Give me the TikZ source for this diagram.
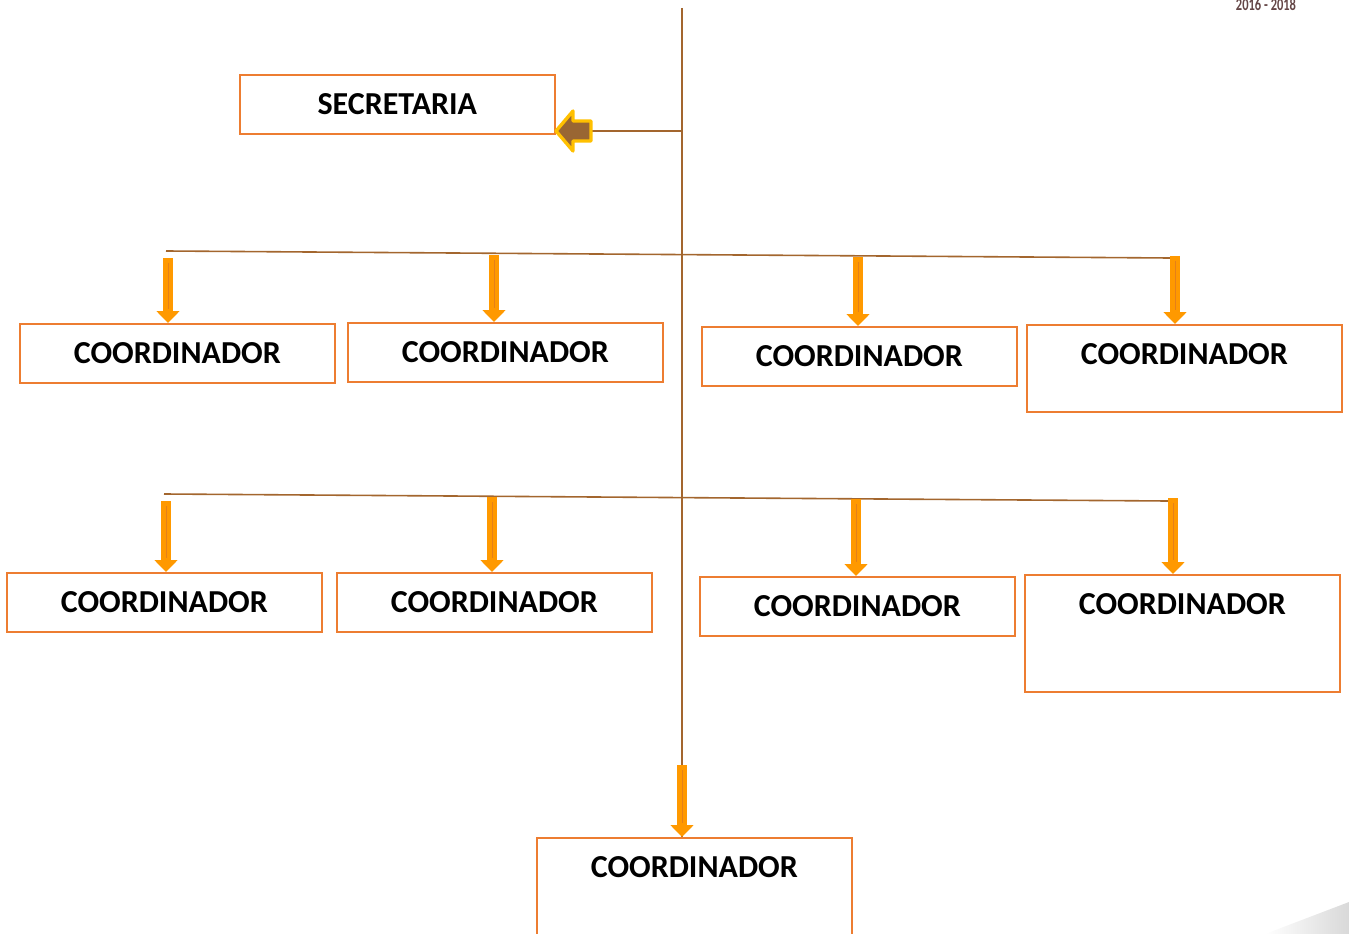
\documentclass[tikz,border=0pt]{standalone}
\usepackage{fontspec}
\setmainfont{Carlito}
\usetikzlibrary{arrows.meta,calc}
\definecolor{boxorange}{RGB}{237,125,49}
\definecolor{linebrown}{RGB}{163,102,46}
\definecolor{arroworange}{RGB}{255,153,0}
\definecolor{arrowyellow}{RGB}{255,192,0}
\definecolor{arrowfill}{RGB}{153,102,51}
\definecolor{yeartext}{RGB}{100,70,70}

\begin{document}
\begin{tikzpicture}[x=0.75pt,y=-0.75pt,line join=miter,
  cbox/.style={draw=boxorange,line width=1.5pt,anchor=north west,inner sep=0pt,
    minimum width=236pt,text height=29.8pt,text depth=14.4pt,
    font=\fontsize{24}{28}\selectfont\bfseries},
  tallbox/.style={text depth=35.4pt},
  conn/.style={draw=linebrown,line width=1.2pt},
  down/.style={draw=arroworange,line width=7.5pt,-{Triangle[width=17pt,length=9pt]}},
  core/.style={draw=orange!60!brown,line width=0.5pt}]
  \useasboundingbox (0,0) rectangle (1349,934);

  % Corner shading and year mark.
  \shade[left color=white,right color=gray!30] (1265,934) -- (1349,902) -- (1349,934) -- cycle;
  \node[anchor=base,text=yeartext,font=\fontsize{13}{15}\selectfont\bfseries] (year) at (1266,11)
    {\scalebox{0.72}[1]{2016 - 2018}};

  % Boxes.
  \node[cbox] (sec) at (239,74) {SECRETARIA};
  \node[cbox] (c11) at (19,323) {COORDINADOR};
  \node[cbox] (c12) at (347,322) {COORDINADOR};
  \node[cbox] (c13) at (701,326) {COORDINADOR};
  \node[cbox,tallbox] (c14) at (1026,324) {COORDINADOR};
  \node[cbox] (c21) at (6,572) {COORDINADOR};
  \node[cbox] (c22) at (336,572) {COORDINADOR};
  \node[cbox] (c23) at (699,576) {COORDINADOR};
  \node[cbox,text depth=58pt] (c24) at (1024,574) {COORDINADOR};
  \node[cbox,text depth=60pt] (cb) at (536,837) {COORDINADOR};

  % Trunk and branches.
  \coordinate (vtop) at (682,8);
  \coordinate (vsec) at (682,131);
  \coordinate (stail) at (591,131);
  \coordinate (h1w) at (166,251);
  \coordinate (h1e) at (1170,258);
  \coordinate (h2w) at (164,494);
  \coordinate (h2e) at (1168,501);
  \draw[conn] (vtop) -- (vtop |- cb.north);
  \draw[conn] (vsec) -- (stail);
  \draw[conn] (h1w) -- (h1e);
  \draw[conn] (h2w) -- (h2e);

  % Arrow to the secretary.
  \draw[draw=arrowyellow,fill=arrowfill,line width=2.5pt,line join=round]
    (556,131) -- (573,111) -- (573,121) -- (stail |- 0,121) -- (stail |- 0,141)
    -- (573,141) -- (573,151) -- cycle;

  % Arrows down to the coordinators.
  \coordinate (a11) at (168,258);
  \coordinate (a12) at (494,255);
  \coordinate (a13) at (858,257);
  \coordinate (a14) at (1175,256);
  \coordinate (a21) at (166,501);
  \coordinate (a22) at (492,497);
  \coordinate (a23) at (856,499);
  \coordinate (a24) at (1173,498);
  \coordinate (ab) at (682,765);
  \foreach \a/\b in {a11/c11,a12/c12,a13/c13,a14/c14,a21/c21,a22/c22,a23/c23,a24/c24,ab/cb} {
    \draw[down] (\a) -- (\a |- \b.north);
    \draw[core] ($(\a)+(0,5)$) -- ($(\a |- \b.north)+(0,-14)$);
  }
\end{tikzpicture}
\end{document}
